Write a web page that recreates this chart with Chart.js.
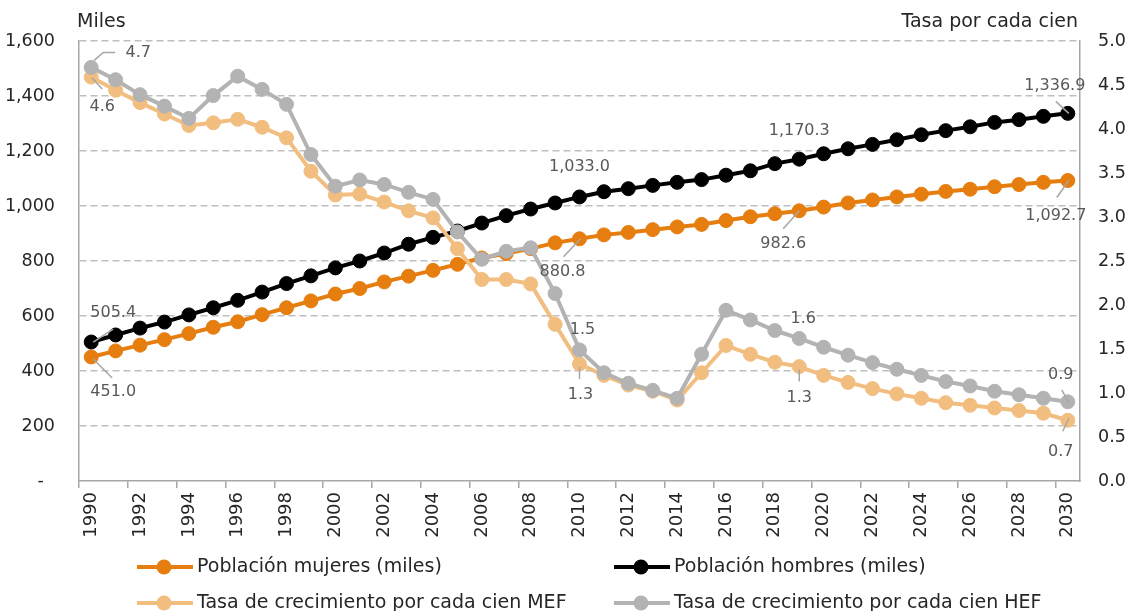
<!DOCTYPE html>
<html>
<head>
<meta charset="utf-8">
<script src="https://cdn.jsdelivr.net/npm/chart.js@4.4.1/dist/chart.umd.min.js"></script>
<style>
html,body{margin:0;padding:0;background:#fff;}
canvas{display:block;}
</style>
</head>
<body>
<canvas id="c" width="1128" height="611"></canvas>
<script>
// ---- Data ----
const years = [];
for (let y = 1990; y <= 2030; y++) years.push(String(y));

const mujeres = [451.0, 473, 494, 514, 536, 559, 579, 605, 630, 655,
  680, 700, 724, 745, 766, 788, 811, 827, 845, 866,
  880.8, 895, 904, 914, 924, 933, 947, 961, 972, 982.6,
  996, 1011, 1022, 1033, 1043, 1053, 1061, 1070, 1078, 1086, 1092.7];

const hombres = [505.4, 531, 556, 578, 604, 630, 657, 687, 718, 746,
  775, 800, 829, 861, 886, 909, 938, 965, 989, 1011,
  1033.0, 1052, 1063, 1075, 1086, 1096, 1112, 1128, 1154, 1170.3,
  1190, 1208, 1224, 1241, 1259, 1274, 1288, 1304, 1314, 1326, 1336.9];

const tasaMEF = [4.59, 4.44, 4.30, 4.17, 4.04, 4.07, 4.11, 4.02, 3.90, 3.52,
  3.25, 3.26, 3.17, 3.07, 2.99, 2.64, 2.29, 2.29, 2.24, 1.78,
  1.33, 1.20, 1.09, 1.02, 0.92, 1.23, 1.54, 1.44, 1.35, 1.30,
  1.20, 1.12, 1.05, 0.99, 0.94, 0.89, 0.86, 0.83, 0.80, 0.77, 0.69];

const tasaHEF = [4.70, 4.56, 4.39, 4.26, 4.12, 4.38, 4.60, 4.45, 4.28, 3.71,
  3.35, 3.42, 3.37, 3.28, 3.20, 2.83, 2.52, 2.61, 2.65, 2.13,
  1.49, 1.23, 1.11, 1.03, 0.94, 1.44, 1.94, 1.83, 1.71, 1.62,
  1.52, 1.43, 1.345, 1.27, 1.20, 1.13, 1.08, 1.02, 0.98, 0.94, 0.90];

const seriesNames = ['Población mujeres (miles)', 'Población hombres (miles)',
  'Tasa de crecimiento por cada cien MEF', 'Tasa de crecimiento por cada cien HEF'];
const seriesColors = ['#E67E0F', '#000000', '#F2BE80', '#B3B3B3'];

const leftTicksMax = 1600, leftStep = 200;
const rightTicksMax = 5, rightStep = 0.5;
const leftTitle = 'Miles';
const rightTitle = 'Tasa por cada cien';

// labelled points: dataset index, data index, text offset, leader line (offsets from point)
const pointLabels = [
  {ds:3, i:0,  dx:47,  dy:-15, lead:[[3,-7],[12,-15],[24,-15]]},
  {ds:2, i:0,  dx:11,  dy:30,  lead:[[1,1],[11,12]]},
  {ds:1, i:0,  dx:22,  dy:-29, lead:[[2,0],[22,-13]]},
  {ds:0, i:0,  dx:22,  dy:35,  lead:[[2,2],[21,21]]},
  {ds:1, i:20, dx:0,   dy:-30, lead:null},
  {ds:0, i:20, dx:-17, dy:33,  lead:[[1,0],[-16,18]]},
  {ds:3, i:20, dx:3,   dy:-20, lead:null},
  {ds:2, i:20, dx:1,   dy:31,  lead:[[0,3],[0,15]]},
  {ds:1, i:29, dx:0,   dy:-28, lead:null},
  {ds:0, i:29, dx:-16, dy:33,  lead:[[0,0],[-16,18]]},
  {ds:3, i:29, dx:4,   dy:-20, lead:null},
  {ds:2, i:29, dx:0,   dy:31,  lead:[[0,3],[0,15]]},
  {ds:1, i:40, dx:-13, dy:-28, lead:[[-12,-12],[1,0]]},
  {ds:0, i:40, dx:-12, dy:35,  lead:[[1,0],[-11,17]]},
  {ds:3, i:40, dx:-7,  dy:-27, lead:[[-6,-12],[1,1]]},
  {ds:2, i:40, dx:-7,  dy:32,  lead:[[1,-2],[-5,11]]}
];

const FONT = '"DejaVu Sans", sans-serif';

function fmtPop(v){ return v.toLocaleString('en-US',{minimumFractionDigits:1, maximumFractionDigits:1}); }

const labelPlugin = {
  id: 'pointLabels',
  afterDatasetsDraw(chart){
    const ctx = chart.ctx;
    ctx.save();
    ctx.font = '16px ' + FONT;
    ctx.fillStyle = '#595959';
    ctx.textAlign = 'center';
    ctx.textBaseline = 'middle';
    ctx.strokeStyle = '#A6A6A6';
    ctx.lineWidth = 1.5;
    pointLabels.forEach(l => {
      const el = chart.getDatasetMeta(l.ds).data[l.i];
      const v = chart.data.datasets[l.ds].data[l.i];
      const txt = l.ds < 2 ? fmtPop(v) : v.toFixed(1);
      if (l.lead){
        ctx.beginPath();
        l.lead.forEach((p,k) => { if(k===0) ctx.moveTo(el.x+p[0], el.y+p[1]); else ctx.lineTo(el.x+p[0], el.y+p[1]); });
        ctx.stroke();
      }
      ctx.fillText(txt, el.x + l.dx, el.y + l.dy);
    });
    ctx.restore();
  }
};

const decorPlugin = {
  id: 'decor',
  afterDraw(chart){
    const ctx = chart.ctx;
    const ca = chart.chartArea;
    ctx.save();
    ctx.font = '19px ' + FONT;
    ctx.fillStyle = '#262626';
    ctx.textBaseline = 'middle';
    ctx.textAlign = 'left';
    ctx.fillText(leftTitle, ca.left - 2, 22);
    ctx.textAlign = 'right';
    ctx.fillText(rightTitle, ca.right - 2, 22);
    // legend
    const cols = [137, 614], rows = [567, 603];
    const order = [0, 1, 2, 3];
    order.forEach((d, k) => {
      const x = cols[k % 2], y = rows[Math.floor(k / 2)];
      ctx.strokeStyle = seriesColors[d];
      ctx.lineWidth = 4;
      ctx.beginPath(); ctx.moveTo(x, y); ctx.lineTo(x + 56, y); ctx.stroke();
      ctx.fillStyle = seriesColors[d];
      ctx.beginPath(); ctx.arc(x + 27, y, 7.5, 0, Math.PI * 2); ctx.fill();
      ctx.fillStyle = '#262626';
      ctx.textAlign = 'left';
      ctx.font = '19px ' + FONT;
      ctx.fillText(seriesNames[d], x + 60, y);
    });
    ctx.restore();
  }
};

function ds(idx, data, axis, order){
  return {
    label: seriesNames[idx], data: data, yAxisID: axis, order: order,
    borderColor: seriesColors[idx], backgroundColor: seriesColors[idx],
    pointBackgroundColor: seriesColors[idx], pointBorderColor: seriesColors[idx],
    borderWidth: 4, pointRadius: 7, pointBorderWidth: 1, pointHoverRadius: 7,
    tension: 0, fill: false
  };
}

new Chart(document.getElementById('c'), {
  type: 'line',
  data: {
    labels: years,
    datasets: [
      ds(0, mujeres, 'y', 4),
      ds(1, hombres, 'y', 3),
      ds(2, tasaMEF, 'y1', 2),
      ds(3, tasaHEF, 'y1', 1)
    ]
  },
  options: {
    responsive: false,
    animation: false,
    devicePixelRatio: 1,
    layout: { padding: { top: 41, left: 0, right: 0, bottom: 0 } },
    plugins: { legend: { display: false }, tooltip: { enabled: false } },
    scales: {
      x: {
        type: 'category',
        offset: true,
        afterFit(s){ s.height = 130; },
        grid: {
          display: true, drawOnChartArea: false, drawTicks: true, tickLength: 7, offset: true,
          lineWidth: 1.5,
          color: (c) => (c.index % 2 === 0 ? '#A6A6A6' : 'rgba(0,0,0,0)')
        },
        border: { display: true, color: '#A6A6A6', width: 1.5 },
        ticks: {
          autoSkip: false, maxRotation: 90, minRotation: 90, padding: 4,
          color: '#262626', font: { family: FONT, size: 18 },
          callback: function(v, i){ return i % 2 === 0 ? years[i] : ''; }
        }
      },
      y: {
        position: 'left', min: 0, max: leftTicksMax,
        afterFit(s){ s.width = 79; },
        grid: {
          drawTicks: false, lineWidth: 1.5,
          color: (c) => (c.tick && c.tick.value === 0 ? 'rgba(0,0,0,0)' : '#BFBFBF')
        },
        border: { display: true, color: '#A6A6A6', width: 1.5, dash: [7, 4] },
        ticks: {
          stepSize: leftStep, padding: 24, color: '#262626', font: { family: FONT, size: 17.5 },
          callback: (v) => (v === 0 ? '-  ' : v.toLocaleString('en-US'))
        }
      },
      y1: {
        position: 'right', min: 0, max: rightTicksMax,
        afterFit(s){ s.width = 48; },
        grid: { display: false, drawOnChartArea: false, drawTicks: false },
        border: { display: true, color: '#A6A6A6', width: 1.5 },
        ticks: {
          stepSize: rightStep, padding: 18, color: '#262626', font: { family: FONT, size: 17.5 },
          callback: (v) => v.toFixed(1)
        }
      }
    }
  },
  plugins: [labelPlugin, decorPlugin]
});
</script>
</body>
</html>
